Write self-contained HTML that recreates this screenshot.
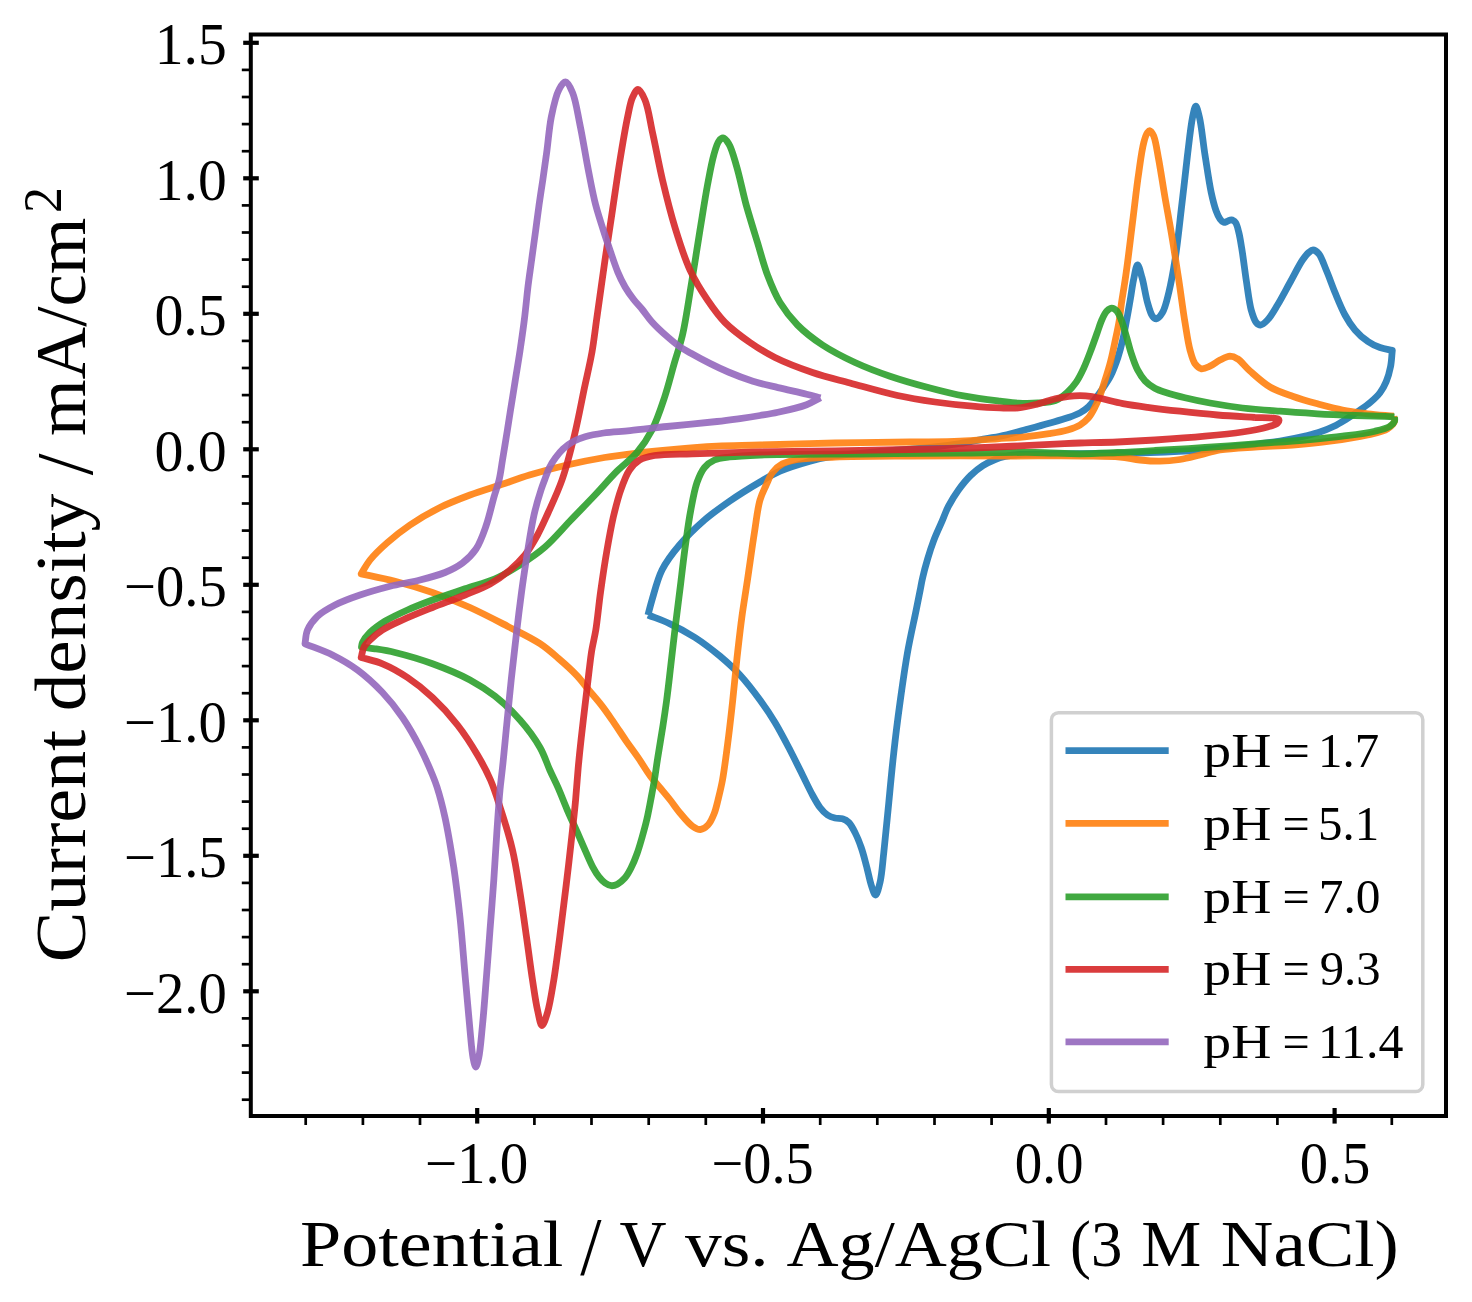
<!DOCTYPE html>
<html><head><meta charset="utf-8"><title>Cyclic voltammograms</title>
<style>
html,body{margin:0;padding:0;background:#fff;}
body{width:1472px;height:1302px;overflow:hidden;}
svg{display:block;filter:blur(0.6px);}
svg text{font-family:"Liberation Serif",serif;fill:#000;}
</style></head>
<body>
<svg width="1472" height="1302" viewBox="0 0 1472 1302">
<rect x="0" y="0" width="1472" height="1302" fill="#fff"/>
<defs><clipPath id="ax"><rect x="250.8" y="34.5" width="1195.2" height="1081.5"/></clipPath></defs>
<g clip-path="url(#ax)" fill="none" stroke-width="6.8" stroke-linejoin="round" stroke-linecap="butt">
<path d="M648.0 615.0C649.3 610.0 650.3 605.8 652.0 600.0C654.5 591.7 657.4 579.2 662.0 570.0C666.6 560.9 672.7 553.0 679.5 545.0C686.8 536.3 695.9 527.5 704.5 520.0C712.6 513.0 720.6 507.4 729.5 501.2C739.0 494.7 750.8 487.4 760.0 482.0C767.3 477.7 772.5 474.5 780.0 471.2C788.8 467.4 800.4 463.9 810.0 461.2C818.6 458.9 825.4 457.5 835.0 456.0C847.8 454.0 864.6 452.9 880.0 451.5C896.2 450.0 915.5 449.0 930.0 447.5C941.3 446.3 950.5 445.0 960.0 443.5C968.7 442.1 977.7 440.1 985.0 438.8C990.6 437.7 994.4 437.4 1000.0 436.2C1007.2 434.7 1016.4 432.1 1024.6 430.0C1032.8 427.8 1041.5 425.5 1049.1 423.3C1055.7 421.4 1062.1 419.7 1067.6 417.8C1072.2 416.2 1076.3 414.9 1079.9 412.9C1083.1 411.1 1085.9 409.1 1088.5 406.7C1091.2 404.2 1093.4 401.1 1095.8 398.1C1098.3 394.9 1100.6 391.5 1103.0 388.0C1105.6 384.2 1108.3 380.5 1110.6 376.0C1113.3 370.6 1115.8 363.8 1117.9 357.6C1119.9 351.5 1121.5 345.3 1122.9 339.1C1124.3 333.0 1125.3 327.0 1126.5 320.7C1127.8 314.0 1129.0 306.8 1130.2 300.0C1131.4 293.3 1132.2 286.2 1133.5 280.0C1134.7 274.6 1136.0 265.1 1137.5 265.0C1138.9 264.9 1140.6 272.6 1142.0 277.5C1144.0 284.4 1145.5 295.5 1147.5 302.5C1149.0 307.8 1150.5 313.6 1152.5 316.2C1153.6 317.7 1154.9 318.9 1156.2 318.8C1158.1 318.6 1160.7 315.5 1162.5 312.5C1165.3 307.9 1166.9 300.0 1168.8 292.5C1171.1 283.0 1173.1 272.0 1175.0 260.0C1177.4 245.2 1179.2 227.1 1181.2 210.0C1183.4 192.1 1185.5 171.6 1187.5 155.0C1189.2 141.3 1190.7 126.3 1192.5 117.5C1193.5 112.6 1194.6 106.3 1195.8 106.2C1196.9 106.2 1198.3 112.6 1199.5 117.5C1201.6 126.3 1203.0 142.5 1205.0 155.0C1207.0 167.5 1209.0 182.2 1211.2 192.5C1212.8 199.9 1214.5 206.4 1216.2 211.2C1217.4 214.5 1218.6 217.1 1220.0 219.0C1221.1 220.5 1222.2 222.0 1223.5 222.3C1224.7 222.6 1226.2 221.7 1227.5 221.3C1228.8 220.9 1230.1 219.7 1231.4 219.8C1232.8 219.9 1234.4 221.1 1235.5 222.5C1237.1 224.6 1237.7 228.3 1238.7 232.0C1240.0 237.0 1240.9 243.2 1242.0 250.0C1243.4 258.7 1244.7 270.0 1246.2 280.0C1247.8 290.0 1249.1 302.2 1251.2 310.0C1252.7 315.2 1254.2 320.1 1256.2 322.5C1257.5 324.0 1258.9 325.1 1260.5 325.0C1262.6 324.9 1265.2 322.4 1267.5 320.0C1270.9 316.5 1274.1 310.6 1277.5 305.0C1281.6 298.3 1285.8 290.0 1290.0 282.5C1294.2 275.0 1298.8 265.4 1302.5 260.0C1304.8 256.7 1306.7 254.2 1308.8 252.5C1310.2 251.3 1311.5 250.0 1313.0 250.0C1314.8 250.0 1317.0 251.7 1318.8 253.8C1321.6 257.1 1323.7 264.1 1326.2 270.0C1329.2 276.9 1331.9 285.0 1335.0 292.5C1338.1 300.0 1341.4 308.4 1345.0 315.0C1348.1 320.7 1351.2 325.6 1355.0 330.0C1358.7 334.3 1363.1 338.3 1367.5 341.2C1371.5 344.0 1375.8 346.0 1380.0 347.5C1384.0 348.9 1388.2 349.4 1392.3 350.3L1392.3 350.3C1391.7 355.8 1391.6 361.6 1390.5 366.9C1389.5 372.0 1388.1 377.1 1386.2 381.6C1384.5 385.7 1382.6 389.3 1380.0 392.7C1377.3 396.3 1373.8 399.4 1370.2 402.5C1366.4 405.7 1362.0 408.6 1357.9 411.5C1353.9 414.3 1349.8 417.0 1345.7 419.5C1341.6 422.0 1337.7 424.4 1333.4 426.5C1329.1 428.6 1324.5 430.5 1319.9 432.0C1315.4 433.5 1311.6 434.4 1306.3 435.7C1299.0 437.4 1289.7 439.4 1280.0 441.0C1268.1 442.9 1253.3 444.5 1240.0 446.0C1226.7 447.5 1214.1 448.9 1200.0 450.0C1184.3 451.2 1166.7 451.9 1150.0 452.5C1133.3 453.1 1116.7 453.2 1100.0 453.5C1083.3 453.7 1064.5 453.8 1050.0 454.0C1038.7 454.2 1028.3 453.9 1020.0 454.5C1014.1 454.9 1009.4 455.5 1005.0 456.5C1001.3 457.3 998.5 458.1 995.1 459.5C991.2 461.1 986.8 463.1 982.9 465.6C978.7 468.3 974.5 471.7 970.6 475.5C966.3 479.7 962.0 485.1 958.3 490.2C954.6 495.3 951.4 500.7 948.5 506.2C945.6 511.7 943.6 517.7 941.1 523.4C938.6 529.1 935.9 534.7 933.7 540.6C931.4 546.6 929.4 552.8 927.6 559.0C925.8 565.1 924.0 571.8 922.7 577.4C921.6 582.0 921.1 585.3 920.2 590.0C919.0 595.9 917.8 602.1 916.2 610.0C913.9 621.5 910.1 637.7 907.5 652.5C904.7 668.5 902.3 685.8 900.0 702.5C897.7 719.2 895.6 735.8 893.8 752.5C891.9 769.2 890.4 785.8 888.8 802.5C887.1 819.2 885.4 838.0 883.8 852.5C882.5 863.8 881.9 874.7 880.0 882.5C878.8 887.6 877.0 895.0 875.5 895.0C874.1 895.0 872.6 889.0 871.2 885.0C869.4 879.5 868.0 871.4 866.2 865.0C864.6 859.0 863.2 853.1 861.2 847.5C859.4 842.3 857.3 836.9 855.0 832.5C853.1 828.7 851.2 824.9 848.8 822.5C846.9 820.6 844.8 819.5 842.5 818.8C840.2 818.0 837.5 818.6 835.0 818.0C832.5 817.4 829.9 816.6 827.5 815.0C824.8 813.2 822.3 810.5 820.0 807.5C817.3 804.0 815.1 799.7 812.5 795.0C809.3 789.2 806.0 782.0 802.5 775.0C798.6 767.1 794.4 758.5 790.0 750.0C785.3 741.0 780.2 731.1 775.0 722.5C770.2 714.5 765.5 707.6 760.0 700.0C754.0 691.8 746.9 682.5 740.0 675.0C733.6 668.0 727.2 662.3 720.0 656.2C712.3 649.8 703.5 643.0 695.0 637.5C686.8 632.2 678.2 627.6 670.0 623.8C662.5 620.2 655.3 617.9 648.0 615.0" stroke="#1f77b4" stroke-opacity="0.90"/>
<path d="M1393.8 416.2C1394.0 417.9 1395.0 419.5 1394.5 421.2C1393.7 423.7 1390.8 426.7 1387.5 428.8C1382.8 431.7 1375.3 433.1 1367.5 435.0C1357.0 437.5 1342.5 439.6 1330.0 441.2C1317.5 442.9 1305.0 444.0 1292.5 445.0C1280.0 446.0 1267.3 446.1 1255.0 447.0C1243.1 447.8 1230.0 448.3 1220.0 450.0C1212.3 451.3 1206.7 453.4 1200.0 455.0C1193.3 456.6 1186.7 458.5 1180.0 459.5C1173.4 460.5 1166.7 461.2 1160.0 461.2C1153.3 461.3 1146.7 460.7 1140.0 460.0C1133.3 459.3 1127.6 457.7 1120.0 457.0C1110.0 456.1 1098.9 456.2 1085.0 456.0C1064.7 455.7 1036.8 456.0 1010.0 456.0C979.1 456.0 940.9 455.8 910.0 456.0C883.2 456.2 855.7 456.2 835.0 457.0C820.3 457.6 807.1 457.8 797.5 459.5C791.3 460.6 786.8 461.4 782.5 463.8C778.6 465.9 775.2 469.0 772.5 472.5C769.7 476.1 768.3 480.6 766.2 485.0C764.1 489.7 761.8 493.9 760.0 500.0C757.5 508.6 756.4 520.1 754.5 532.0C752.1 547.0 749.3 567.8 747.0 583.0C745.2 595.2 743.6 604.3 742.0 616.0C740.2 629.1 738.6 643.8 737.0 658.0C735.4 672.6 734.1 687.8 732.5 702.5C730.9 716.8 729.3 731.5 727.5 745.0C725.9 757.2 724.3 770.0 722.5 780.0C721.1 787.6 719.5 793.9 718.0 800.0C716.7 805.1 715.8 809.7 714.0 814.0C712.4 818.0 710.5 822.4 708.0 825.0C705.9 827.2 703.1 829.3 700.5 829.5C697.9 829.7 695.2 828.1 692.5 826.2C688.5 823.5 683.8 817.5 680.0 813.0C676.4 808.7 673.3 803.9 670.2 800.0C667.6 796.7 665.7 794.4 662.9 791.1C659.3 786.8 654.6 781.7 650.6 776.4C646.3 770.7 642.5 763.9 638.3 757.9C634.2 752.0 630.1 746.6 626.0 740.7C621.9 734.7 617.8 728.3 613.7 722.3C609.6 716.4 605.6 710.5 601.4 705.1C597.4 699.9 593.2 695.3 589.1 690.4C585.0 685.5 581.6 680.6 576.9 675.6C571.5 669.9 564.7 663.8 558.4 658.4C552.4 653.2 547.3 648.5 540.0 643.7C530.9 637.7 518.8 632.1 507.5 626.2C495.5 620.0 482.6 613.2 470.0 607.5C457.6 601.9 445.1 596.9 432.5 592.5C420.1 588.2 407.2 584.4 395.0 581.2C383.5 578.3 372.5 576.2 361.2 573.8L361.2 573.8C364.2 569.2 366.3 564.7 370.0 560.0C374.6 554.3 381.1 548.1 387.5 542.5C394.4 536.4 401.8 530.6 410.0 525.0C419.1 518.8 429.8 512.6 440.0 507.5C449.8 502.6 459.9 498.8 470.0 495.0C479.9 491.3 490.0 488.3 500.0 485.0C509.9 481.7 519.0 478.2 529.5 475.0C541.2 471.5 554.5 467.9 567.0 465.0C579.5 462.1 592.0 459.6 604.5 457.5C617.0 455.4 629.5 454.0 642.0 452.5C654.5 451.0 667.0 449.8 679.5 448.8C692.0 447.7 704.1 446.9 717.0 446.2C730.8 445.6 743.7 445.5 760.0 445.0C781.5 444.4 810.0 443.5 835.0 443.0C860.0 442.5 887.5 442.3 910.0 442.0C928.4 441.7 944.5 441.9 960.0 441.2C973.4 440.7 986.0 439.5 997.5 438.8C1007.3 438.1 1015.8 437.7 1024.6 436.8C1033.0 436.0 1041.5 434.9 1049.1 433.7C1055.7 432.6 1062.1 431.6 1067.6 430.0C1072.2 428.6 1076.3 427.3 1079.9 425.1C1083.2 423.1 1086.1 420.6 1088.5 417.8C1091.0 414.9 1092.8 411.4 1094.6 407.9C1096.5 404.4 1098.0 400.9 1099.5 396.9C1101.3 392.4 1102.7 387.5 1104.4 382.1C1106.4 375.8 1108.8 368.4 1110.6 361.3C1112.5 354.1 1114.0 346.2 1115.5 339.1C1116.9 332.7 1118.2 326.9 1119.2 320.7C1120.2 314.6 1120.6 309.2 1121.6 302.3C1122.9 293.6 1124.7 283.7 1126.2 272.5C1128.3 258.0 1130.4 239.2 1132.5 222.5C1134.6 205.8 1136.6 187.0 1138.8 172.5C1140.4 161.2 1141.8 149.8 1143.8 142.5C1144.9 138.2 1146.0 134.4 1147.5 132.5C1148.3 131.5 1149.2 130.6 1150.0 130.8C1151.2 131.0 1152.6 133.6 1153.8 136.2C1155.9 141.3 1157.1 151.2 1158.8 160.0C1160.8 171.1 1162.8 184.6 1165.0 197.5C1167.4 211.2 1170.2 226.0 1172.5 240.0C1174.7 253.5 1176.7 266.5 1178.8 280.0C1180.9 293.9 1182.9 309.9 1185.0 322.5C1186.7 332.7 1188.0 342.5 1190.0 350.0C1191.5 355.4 1192.7 360.5 1195.0 363.8C1196.7 366.1 1198.9 368.3 1201.2 368.8C1203.8 369.3 1207.1 367.5 1210.0 366.2C1213.3 364.8 1216.6 361.7 1220.0 360.0C1223.3 358.4 1226.9 356.3 1230.0 356.2C1232.7 356.2 1234.9 357.1 1237.5 358.8C1241.4 361.1 1245.2 366.8 1250.0 371.0C1255.8 376.1 1262.8 382.8 1270.0 387.0C1277.0 391.1 1284.7 393.5 1292.5 396.2C1300.5 399.1 1309.1 401.5 1317.5 403.8C1325.8 406.0 1334.1 408.3 1342.5 410.0C1350.8 411.7 1359.1 412.7 1367.5 413.8C1376.1 414.8 1385.0 415.4 1393.8 416.2" stroke="#ff7f0e" stroke-opacity="0.90"/>
<path d="M1394.5 416.8C1394.5 418.2 1395.1 419.8 1394.5 421.2C1393.8 423.0 1392.2 424.8 1390.0 426.2C1386.6 428.5 1381.0 429.8 1375.0 431.2C1366.3 433.4 1353.7 434.8 1342.5 436.2C1330.5 437.8 1318.4 438.8 1305.0 440.0C1289.5 441.4 1271.7 442.5 1255.0 443.8C1238.3 445.0 1221.7 446.4 1205.0 447.5C1188.3 448.6 1170.5 449.6 1155.0 450.5C1141.6 451.3 1130.0 452.0 1117.5 452.5C1105.0 453.0 1093.1 453.7 1080.0 453.8C1065.7 453.8 1051.9 452.7 1035.0 452.5C1013.2 452.3 986.8 452.8 960.0 453.0C929.1 453.3 893.3 453.7 860.0 454.0C826.7 454.3 783.7 454.1 760.0 455.0C746.9 455.5 737.9 455.9 729.5 457.0C723.6 457.8 718.8 458.1 714.5 460.0C710.6 461.7 707.3 464.2 704.5 467.5C701.3 471.4 699.1 476.6 697.0 482.5C694.3 490.2 692.6 500.4 690.8 510.0C688.8 520.3 687.4 530.9 685.8 542.5C683.9 555.7 682.2 571.0 680.5 585.0C678.8 598.5 677.2 611.2 675.5 625.0C673.7 639.7 671.8 657.0 670.2 670.7C668.9 681.9 667.8 691.7 666.5 701.4C665.3 710.1 664.2 717.4 662.9 726.0C661.4 735.7 659.4 747.0 657.9 756.7C656.5 765.3 655.5 773.6 654.2 781.3C653.0 788.2 651.8 794.3 650.6 800.7C649.4 806.9 648.3 813.0 646.9 819.1C645.5 825.3 643.7 831.7 642.0 837.6C640.4 843.1 639.0 848.3 637.1 853.5C635.3 858.6 633.1 864.0 630.9 868.3C629.0 872.0 627.2 875.4 624.8 878.1C622.6 880.6 619.9 882.9 617.4 884.2C615.4 885.2 613.3 885.9 611.3 885.7C609.2 885.5 607.0 884.3 605.1 883.0C602.9 881.5 600.9 879.3 599.0 876.9C596.8 874.1 594.8 870.8 592.8 867.1C590.3 862.5 588.0 856.7 585.5 851.1C582.7 844.9 579.9 838.1 576.9 831.4C573.7 824.2 570.1 816.6 567.0 809.3C564.0 802.3 561.3 795.1 558.4 788.4C555.6 782.0 552.7 776.5 549.8 770.0C546.6 762.9 544.4 755.1 540.0 747.5C534.9 738.5 527.5 728.5 520.0 720.0C512.5 711.4 503.7 703.1 495.0 696.2C486.9 689.9 479.4 685.1 470.0 680.0C459.0 674.1 445.1 668.4 432.5 663.8C420.1 659.2 405.6 655.1 395.0 652.5C387.4 650.6 381.0 649.7 375.0 648.8C370.1 648.0 366.0 647.6 361.5 647.0L361.5 647.0C361.8 645.5 361.7 644.2 362.5 642.5C363.8 639.7 366.8 635.7 370.0 632.5C373.9 628.6 379.3 624.8 385.0 621.2C391.6 617.2 399.7 613.5 407.5 610.0C415.5 606.4 423.6 603.3 432.5 600.0C442.6 596.2 454.4 592.4 465.0 588.8C475.2 585.3 485.6 582.8 495.0 578.8C503.9 574.9 511.8 570.2 520.0 565.0C528.5 559.6 537.0 554.0 545.0 547.0C553.7 539.5 561.7 529.7 570.0 521.0C578.3 512.3 587.0 503.5 595.0 495.0C602.6 486.9 609.7 478.6 617.0 471.2C623.7 464.5 631.2 459.4 637.0 452.5C642.8 445.6 647.6 438.5 652.0 430.0C657.0 420.4 660.8 408.6 664.5 397.5C668.3 386.1 671.3 373.5 674.5 362.5C677.3 352.8 680.0 345.6 682.5 335.0C685.8 320.9 688.4 302.1 691.2 285.0C694.2 267.1 697.2 247.4 700.0 230.0C702.6 214.2 705.0 198.5 707.5 185.0C709.6 174.0 711.5 163.0 713.8 155.0C715.3 149.5 716.7 144.1 718.8 141.2C720.0 139.5 721.5 137.9 723.0 138.0C724.8 138.1 727.0 141.0 728.8 143.8C731.7 148.4 733.8 156.7 736.2 165.0C739.6 176.2 742.7 191.9 746.2 205.0C749.8 217.7 753.8 230.5 757.5 242.5C760.9 253.7 763.6 264.7 767.5 275.0C771.2 284.7 774.9 294.1 780.0 302.5C785.0 310.7 790.7 318.1 797.5 325.0C804.7 332.3 813.3 338.9 822.5 345.0C832.4 351.5 843.8 357.3 855.0 362.5C866.3 367.7 877.8 372.1 890.0 376.2C902.8 380.6 917.1 384.6 930.0 388.0C942.0 391.2 953.3 394.0 965.0 396.2C976.6 398.4 990.2 400.0 1000.0 401.2C1007.1 402.1 1012.2 402.9 1018.4 403.2C1024.8 403.5 1031.7 403.5 1038.0 403.0C1044.0 402.6 1050.2 402.6 1055.3 400.6C1060.0 398.8 1064.0 395.2 1067.6 392.0C1070.9 389.0 1073.6 385.8 1076.2 382.1C1079.0 378.1 1081.2 373.5 1083.5 368.6C1086.1 363.0 1088.6 356.3 1090.9 350.2C1093.1 344.4 1095.2 338.4 1097.1 333.0C1098.8 328.2 1100.2 323.4 1102.0 319.5C1103.5 316.2 1105.0 312.8 1106.9 310.9C1108.4 309.5 1110.2 308.2 1111.8 308.2C1113.4 308.2 1115.3 309.4 1116.7 310.9C1118.7 313.0 1120.1 317.0 1121.6 320.7C1123.4 325.3 1124.9 331.3 1126.5 336.7C1128.2 342.3 1129.5 348.3 1131.4 353.9C1133.2 359.4 1135.1 365.2 1137.6 369.9C1139.8 374.0 1142.1 377.8 1145.0 380.9C1147.8 383.9 1151.3 386.3 1154.8 388.3C1158.2 390.2 1161.6 391.2 1165.8 392.6C1171.3 394.4 1178.2 396.2 1185.0 397.8C1192.8 399.7 1201.1 401.4 1210.0 403.0C1220.1 404.8 1231.3 406.6 1242.5 408.0C1254.5 409.4 1267.5 410.3 1280.0 411.2C1292.5 412.2 1305.0 413.0 1317.5 413.8C1330.0 414.5 1342.3 415.0 1355.0 415.5C1368.0 416.0 1381.3 416.3 1394.5 416.8" stroke="#2ca02c" stroke-opacity="0.90"/>
<path d="M1255.0 417.5C1260.8 417.7 1268.2 417.4 1272.5 418.0C1275.1 418.3 1278.2 418.4 1278.8 419.5C1279.2 420.3 1278.5 422.0 1277.5 423.0C1275.8 424.7 1271.7 425.8 1267.5 427.0C1261.1 428.9 1251.7 430.6 1242.5 432.0C1231.3 433.8 1218.4 435.0 1205.0 436.2C1189.5 437.7 1170.5 439.0 1155.0 440.0C1141.6 440.9 1130.0 441.5 1117.5 442.0C1105.0 442.5 1090.6 442.7 1080.0 443.0C1072.3 443.2 1068.8 443.4 1060.0 443.8C1043.0 444.5 1010.0 446.5 985.0 447.5C960.0 448.5 935.0 449.0 910.0 449.5C885.0 450.0 860.0 450.3 835.0 450.8C810.0 451.2 784.4 451.5 760.0 452.0C736.8 452.5 711.3 453.1 692.0 453.8C677.7 454.3 664.1 453.9 654.5 455.5C648.3 456.6 643.7 457.5 639.5 460.0C635.5 462.4 632.4 465.8 629.5 470.0C625.9 475.3 623.3 482.7 620.8 490.0C617.8 498.3 615.5 507.9 613.2 517.5C610.9 527.8 609.0 538.4 607.0 550.0C604.7 563.2 602.4 578.8 600.5 592.5C598.7 605.4 597.5 619.2 595.8 630.0C594.4 638.3 592.6 644.9 591.5 652.0C590.5 658.5 590.0 663.7 589.1 670.7C588.0 679.7 586.8 690.7 585.5 701.4C584.1 713.1 582.5 726.6 581.2 738.3C580.0 749.0 579.0 758.7 578.1 769.0C577.2 779.3 576.5 789.8 575.6 800.0C574.7 810.1 573.7 818.5 572.5 830.0C570.8 845.6 568.4 867.1 566.2 885.0C564.2 902.1 562.1 918.8 560.0 935.0C558.0 950.4 556.0 966.2 553.8 980.0C551.8 991.7 550.0 1004.2 547.5 1012.5C545.9 1017.9 543.6 1025.6 542.0 1025.5C540.3 1025.4 538.9 1016.1 537.5 1010.0C535.6 1001.7 534.2 991.0 532.5 980.0C530.4 966.5 528.4 949.8 526.2 935.0C524.2 920.6 522.3 906.7 520.0 892.5C517.7 878.3 515.8 864.1 512.5 850.0C509.2 835.6 504.1 819.6 500.0 807.0C496.8 796.9 494.3 788.7 490.5 780.0C486.8 771.4 482.6 763.6 477.5 755.0C471.8 745.3 464.9 734.5 457.5 725.0C450.0 715.3 441.2 705.6 432.5 697.5C424.5 689.9 416.1 683.2 407.5 677.5C399.4 672.1 390.7 667.2 382.5 663.8C375.3 660.8 368.3 659.6 361.2 657.5L361.2 657.5C362.1 654.2 362.3 650.4 363.8 647.5C365.2 644.6 367.4 642.5 370.0 640.0C373.3 636.7 377.7 633.1 382.5 630.0C388.2 626.3 395.1 623.4 402.5 620.0C411.4 615.9 422.3 611.6 432.5 607.5C443.1 603.3 454.9 599.2 465.0 595.0C473.9 591.3 482.3 588.3 490.0 584.0C497.3 579.9 504.0 575.0 510.0 570.0C515.6 565.3 520.5 560.6 525.0 555.0C529.7 549.0 533.7 541.9 537.5 535.0C541.4 527.9 544.3 521.1 548.0 513.0C552.4 503.2 557.8 492.0 562.0 480.0C566.8 466.3 570.8 450.3 574.5 435.0C578.3 419.4 581.4 402.2 584.5 387.5C587.2 374.8 590.0 363.3 592.0 352.0C593.8 341.7 594.6 334.2 596.2 322.5C598.7 305.5 602.1 279.7 605.0 260.0C607.6 242.4 610.0 226.7 612.5 210.0C615.0 193.3 617.4 176.0 620.0 160.0C622.4 145.2 625.1 129.0 627.5 117.5C629.2 109.6 630.2 102.5 632.5 97.5C634.1 94.1 636.1 89.5 638.0 89.5C640.2 89.5 643.0 95.3 645.0 100.0C648.3 107.6 649.9 120.6 652.5 132.5C655.7 146.8 658.8 164.2 662.5 180.0C666.3 195.9 670.3 212.2 675.0 227.5C679.5 242.2 684.1 257.3 690.0 270.0C695.2 281.1 701.3 290.9 707.5 300.0C713.1 308.2 718.2 315.6 725.0 322.5C732.2 329.8 741.5 336.6 750.0 342.5C758.1 348.2 765.6 352.8 775.0 357.5C786.0 363.0 799.9 368.2 812.5 372.5C824.9 376.7 836.7 379.4 850.0 383.0C864.9 387.0 882.5 392.2 897.5 395.5C910.7 398.4 922.5 400.2 935.0 402.0C947.5 403.8 961.0 405.3 972.5 406.2C982.4 407.1 991.7 407.7 1000.0 407.9C1006.7 408.1 1012.3 408.5 1018.4 407.9C1024.6 407.3 1030.8 405.7 1036.9 404.2C1043.1 402.7 1049.6 400.1 1055.3 398.7C1060.1 397.6 1064.5 396.8 1068.8 396.3C1072.7 395.8 1076.1 395.6 1079.9 395.6C1083.9 395.6 1088.0 396.0 1092.1 396.6C1096.2 397.2 1099.9 398.3 1104.4 399.3C1109.9 400.6 1116.3 402.3 1122.9 403.6C1130.5 405.0 1138.6 406.1 1147.4 407.3C1157.5 408.7 1168.7 410.0 1180.0 411.2C1192.1 412.6 1205.0 414.0 1217.5 415.0C1230.0 416.0 1242.5 416.7 1255.0 417.5" stroke="#d62728" stroke-opacity="0.90"/>
<path d="M820.5 397.8C815.9 400.1 812.2 402.6 806.6 404.7C798.9 407.6 786.5 410.4 778.0 412.3C771.3 413.8 766.2 414.5 760.0 415.5C753.5 416.6 746.9 417.6 740.0 418.6C732.6 419.6 726.1 420.5 717.0 421.5C703.5 423.0 682.4 424.9 667.0 426.5C653.7 427.9 641.3 429.5 630.0 430.6C620.5 431.6 611.6 431.8 603.6 433.0C596.9 434.0 590.6 435.1 585.1 436.7C580.5 438.1 576.6 439.5 572.9 441.6C569.3 443.6 565.9 446.3 563.0 449.0C560.2 451.6 557.9 454.6 555.7 457.6C553.4 460.7 551.3 463.8 549.5 467.4C547.6 471.3 546.1 476.0 544.6 480.0C543.3 483.5 542.3 485.9 541.0 490.0C538.9 496.4 536.1 505.8 534.0 515.0C531.5 526.1 529.5 539.4 527.5 552.0C525.4 565.2 523.3 579.0 521.5 592.5C519.7 606.0 518.1 619.0 516.5 633.0C514.7 648.1 512.9 664.1 511.2 680.0C509.5 696.4 507.8 714.5 506.2 730.0C504.9 743.4 503.7 756.6 502.5 767.5C501.6 776.0 500.8 781.4 500.0 790.0C498.9 801.4 498.0 815.9 497.0 830.0C495.9 845.7 494.9 863.3 493.8 880.0C492.6 896.7 491.3 913.3 490.0 930.0C488.8 946.7 487.5 963.8 486.2 980.0C485.0 995.4 483.9 1011.2 482.5 1025.0C481.3 1036.7 480.4 1049.9 478.8 1057.5C477.9 1061.7 476.7 1067.0 475.8 1067.0C474.8 1067.0 473.8 1061.5 473.0 1057.5C471.7 1050.8 471.0 1040.5 470.0 1030.0C468.6 1015.8 467.1 997.6 465.5 980.0C463.7 960.3 462.1 937.2 460.0 917.5C458.1 899.9 456.2 884.1 453.8 867.5C451.2 850.8 448.2 832.1 445.0 817.5C442.5 806.0 439.5 794.8 437.0 787.0C435.4 782.0 434.5 779.8 432.5 775.0C429.5 767.7 424.8 756.7 420.0 747.5C414.9 737.6 408.9 726.8 402.5 717.5C396.4 708.5 389.9 700.3 382.5 692.5C374.9 684.5 366.2 676.4 357.5 670.0C349.4 664.0 341.2 659.4 332.5 655.0C323.7 650.6 314.2 647.5 305.0 643.8L305.0 643.8C305.8 639.2 305.6 634.4 307.5 630.0C309.6 625.2 313.2 620.3 317.5 616.2C322.2 611.8 328.5 608.4 335.0 605.0C342.4 601.2 351.2 598.0 360.0 595.0C369.5 591.7 380.0 588.8 390.0 586.2C400.0 583.8 410.5 582.4 420.0 580.0C428.8 577.8 437.5 575.6 445.0 572.5C451.5 569.8 457.3 566.9 462.5 563.0C467.6 559.1 472.2 554.6 476.0 549.0C480.3 542.6 483.1 534.2 486.0 526.0C489.2 517.0 491.6 505.4 494.0 497.0C495.9 490.6 497.7 485.9 499.1 480.0C500.6 473.6 501.3 467.3 502.5 460.0C504.0 451.0 506.0 438.7 507.4 430.0C508.5 423.2 509.1 418.8 510.2 412.0C511.6 403.1 513.5 391.6 515.1 381.4C516.7 371.2 518.5 360.9 520.0 350.7C521.5 340.5 523.0 330.5 524.3 320.0C525.7 308.9 526.8 296.5 528.1 285.7C529.3 276.1 530.6 267.6 531.8 258.6C533.0 249.6 534.3 240.6 535.5 231.6C536.7 222.6 537.9 213.4 539.1 204.6C540.3 196.2 541.5 188.6 542.8 180.0C544.2 170.5 545.6 160.2 547.0 150.0C548.4 139.4 549.2 127.8 551.2 117.5C553.2 107.9 555.5 96.2 558.8 90.0C560.7 86.2 563.3 81.9 565.5 82.0C567.9 82.1 570.5 87.8 572.5 92.5C575.8 100.1 577.5 113.1 580.0 125.0C583.0 139.3 585.9 158.2 588.8 172.5C591.1 184.3 593.0 194.7 595.6 204.6C597.9 213.4 600.5 221.2 603.0 229.1C605.4 236.7 607.9 244.0 610.4 251.3C612.8 258.4 615.2 265.8 617.8 272.1C620.1 277.6 622.4 282.3 625.1 287.0C627.7 291.5 630.7 295.6 633.7 299.5C636.5 303.1 639.4 305.9 642.3 309.5C645.5 313.4 648.2 317.8 652.0 322.0C656.3 326.8 662.1 332.1 666.9 336.3C671.1 340.0 674.9 343.3 679.1 346.2C683.1 349.0 686.9 350.9 691.4 353.5C696.9 356.6 703.7 360.3 709.9 363.4C716.0 366.5 721.7 369.2 728.3 372.0C735.8 375.2 744.6 378.6 752.9 381.2C761.2 383.8 769.3 385.5 778.0 387.6C787.2 389.8 798.8 392.3 806.6 394.2C812.1 395.5 815.9 396.6 820.5 397.8" stroke="#9467bd" stroke-opacity="0.90"/>
</g>
<g>
<rect x="1051.4" y="712.8" width="371.4" height="378.8" rx="7" ry="7" fill="#fff" fill-opacity="0.8" stroke="#d0d0d0" stroke-width="3.5"/>
<line x1="1065.5" y1="750.6" x2="1168.7" y2="750.6" stroke="#1f77b4" stroke-opacity="0.90" stroke-width="6.8"/>
<line x1="1065.5" y1="823.3" x2="1168.7" y2="823.3" stroke="#ff7f0e" stroke-opacity="0.90" stroke-width="6.8"/>
<line x1="1065.5" y1="896.8" x2="1168.7" y2="896.8" stroke="#2ca02c" stroke-opacity="0.90" stroke-width="6.8"/>
<line x1="1065.5" y1="969.3" x2="1168.7" y2="969.3" stroke="#d62728" stroke-opacity="0.90" stroke-width="6.8"/>
<line x1="1065.5" y1="1041.9" x2="1168.7" y2="1041.9" stroke="#9467bd" stroke-opacity="0.90" stroke-width="6.8"/>
</g>
<g stroke="#000" fill="none">
<line x1="477.2" y1="1108.0" x2="477.2" y2="1123.6" stroke-width="4.2"/>
<line x1="763.0" y1="1108.0" x2="763.0" y2="1123.6" stroke-width="4.2"/>
<line x1="1048.8" y1="1108.0" x2="1048.8" y2="1123.6" stroke-width="4.2"/>
<line x1="1334.6" y1="1108.0" x2="1334.6" y2="1123.6" stroke-width="4.2"/>
<line x1="305.7" y1="1116.0" x2="305.7" y2="1125.0" stroke-width="2.7"/>
<line x1="362.9" y1="1116.0" x2="362.9" y2="1125.0" stroke-width="2.7"/>
<line x1="420.0" y1="1116.0" x2="420.0" y2="1125.0" stroke-width="2.7"/>
<line x1="534.4" y1="1116.0" x2="534.4" y2="1125.0" stroke-width="2.7"/>
<line x1="591.5" y1="1116.0" x2="591.5" y2="1125.0" stroke-width="2.7"/>
<line x1="648.7" y1="1116.0" x2="648.7" y2="1125.0" stroke-width="2.7"/>
<line x1="705.8" y1="1116.0" x2="705.8" y2="1125.0" stroke-width="2.7"/>
<line x1="820.2" y1="1116.0" x2="820.2" y2="1125.0" stroke-width="2.7"/>
<line x1="877.3" y1="1116.0" x2="877.3" y2="1125.0" stroke-width="2.7"/>
<line x1="934.5" y1="1116.0" x2="934.5" y2="1125.0" stroke-width="2.7"/>
<line x1="991.6" y1="1116.0" x2="991.6" y2="1125.0" stroke-width="2.7"/>
<line x1="1106.0" y1="1116.0" x2="1106.0" y2="1125.0" stroke-width="2.7"/>
<line x1="1163.1" y1="1116.0" x2="1163.1" y2="1125.0" stroke-width="2.7"/>
<line x1="1220.3" y1="1116.0" x2="1220.3" y2="1125.0" stroke-width="2.7"/>
<line x1="1277.4" y1="1116.0" x2="1277.4" y2="1125.0" stroke-width="2.7"/>
<line x1="1391.8" y1="1116.0" x2="1391.8" y2="1125.0" stroke-width="2.7"/>
<line x1="243.2" y1="42.8" x2="258.8" y2="42.8" stroke-width="4.2"/>
<line x1="243.2" y1="178.3" x2="258.8" y2="178.3" stroke-width="4.2"/>
<line x1="243.2" y1="313.8" x2="258.8" y2="313.8" stroke-width="4.2"/>
<line x1="243.2" y1="449.3" x2="258.8" y2="449.3" stroke-width="4.2"/>
<line x1="243.2" y1="584.8" x2="258.8" y2="584.8" stroke-width="4.2"/>
<line x1="243.2" y1="720.3" x2="258.8" y2="720.3" stroke-width="4.2"/>
<line x1="243.2" y1="855.8" x2="258.8" y2="855.8" stroke-width="4.2"/>
<line x1="243.2" y1="991.3" x2="258.8" y2="991.3" stroke-width="4.2"/>
<line x1="241.8" y1="1099.7" x2="250.8" y2="1099.7" stroke-width="2.7"/>
<line x1="241.8" y1="1072.6" x2="250.8" y2="1072.6" stroke-width="2.7"/>
<line x1="241.8" y1="1045.5" x2="250.8" y2="1045.5" stroke-width="2.7"/>
<line x1="241.8" y1="1018.4" x2="250.8" y2="1018.4" stroke-width="2.7"/>
<line x1="241.8" y1="964.2" x2="250.8" y2="964.2" stroke-width="2.7"/>
<line x1="241.8" y1="937.1" x2="250.8" y2="937.1" stroke-width="2.7"/>
<line x1="241.8" y1="910.0" x2="250.8" y2="910.0" stroke-width="2.7"/>
<line x1="241.8" y1="882.9" x2="250.8" y2="882.9" stroke-width="2.7"/>
<line x1="241.8" y1="828.7" x2="250.8" y2="828.7" stroke-width="2.7"/>
<line x1="241.8" y1="801.6" x2="250.8" y2="801.6" stroke-width="2.7"/>
<line x1="241.8" y1="774.5" x2="250.8" y2="774.5" stroke-width="2.7"/>
<line x1="241.8" y1="747.4" x2="250.8" y2="747.4" stroke-width="2.7"/>
<line x1="241.8" y1="693.2" x2="250.8" y2="693.2" stroke-width="2.7"/>
<line x1="241.8" y1="666.1" x2="250.8" y2="666.1" stroke-width="2.7"/>
<line x1="241.8" y1="639.0" x2="250.8" y2="639.0" stroke-width="2.7"/>
<line x1="241.8" y1="611.9" x2="250.8" y2="611.9" stroke-width="2.7"/>
<line x1="241.8" y1="557.7" x2="250.8" y2="557.7" stroke-width="2.7"/>
<line x1="241.8" y1="530.6" x2="250.8" y2="530.6" stroke-width="2.7"/>
<line x1="241.8" y1="503.5" x2="250.8" y2="503.5" stroke-width="2.7"/>
<line x1="241.8" y1="476.4" x2="250.8" y2="476.4" stroke-width="2.7"/>
<line x1="241.8" y1="422.2" x2="250.8" y2="422.2" stroke-width="2.7"/>
<line x1="241.8" y1="395.1" x2="250.8" y2="395.1" stroke-width="2.7"/>
<line x1="241.8" y1="368.0" x2="250.8" y2="368.0" stroke-width="2.7"/>
<line x1="241.8" y1="340.9" x2="250.8" y2="340.9" stroke-width="2.7"/>
<line x1="241.8" y1="286.7" x2="250.8" y2="286.7" stroke-width="2.7"/>
<line x1="241.8" y1="259.6" x2="250.8" y2="259.6" stroke-width="2.7"/>
<line x1="241.8" y1="232.5" x2="250.8" y2="232.5" stroke-width="2.7"/>
<line x1="241.8" y1="205.4" x2="250.8" y2="205.4" stroke-width="2.7"/>
<line x1="241.8" y1="151.2" x2="250.8" y2="151.2" stroke-width="2.7"/>
<line x1="241.8" y1="124.1" x2="250.8" y2="124.1" stroke-width="2.7"/>
<line x1="241.8" y1="97.0" x2="250.8" y2="97.0" stroke-width="2.7"/>
<line x1="241.8" y1="69.9" x2="250.8" y2="69.9" stroke-width="2.7"/>
<rect x="250.8" y="34.5" width="1195.2" height="1081.5" stroke-width="4.0"/>
</g>
<g>
<text transform="translate(154.80 64.40) scale(0.9846 1)" font-size="58.5">1.5</text>
<text transform="translate(154.80 199.90) scale(0.9846 1)" font-size="58.5">1.0</text>
<text transform="translate(154.39 335.40) scale(0.9904 1)" font-size="58.5">0.5</text>
<text transform="translate(154.39 470.90) scale(0.9904 1)" font-size="58.5">0.0</text>
<text transform="translate(123.94 606.40) scale(0.9690 1)" font-size="58.5">−0.5</text>
<text transform="translate(123.94 741.90) scale(0.9690 1)" font-size="58.5">−1.0</text>
<text transform="translate(123.94 877.40) scale(0.9690 1)" font-size="58.5">−1.5</text>
<text transform="translate(123.94 1012.90) scale(0.9690 1)" font-size="58.5">−2.0</text>
<text transform="translate(424.93 1183.30) scale(0.9749 1)" font-size="58.5">−1.0</text>
<text transform="translate(711.56 1183.30) scale(0.9631 1)" font-size="58.5">−0.5</text>
<text transform="translate(1014.68 1183.30) scale(0.9400 1)" font-size="58.5">0.0</text>
<text transform="translate(1299.63 1183.30) scale(0.9688 1)" font-size="58.5">0.5</text>
<text transform="translate(580.30 1274.00) scale(0.9210 1)" font-size="83.0">/</text>
<text transform="translate(300.04 1265.50) scale(1.1397 1)" font-size="65.0">Potential</text>
<text transform="translate(619.50 1265.50) scale(1.0017 1)" font-size="65.0">V</text>
<text transform="translate(685.00 1265.50) scale(1.1288 1)" font-size="65.0">vs.</text>
<text transform="translate(786.50 1265.50) scale(1.1105 1)" font-size="65.0">Ag/AgCl</text>
<text transform="translate(1070.04 1265.50) scale(0.9664 1)" font-size="65.0">(3</text>
<text transform="translate(1141.15 1265.50) scale(1.0383 1)" font-size="65.0">M</text>
<text transform="translate(1220.86 1265.50) scale(1.1204 1)" font-size="65.0">NaCl)</text>
<text transform="translate(1203.33 767.40) scale(1.1453 1)" font-size="48.6">pH</text>
<text transform="translate(1282.54 767.40) scale(0.9920 1)" font-size="48.6">=</text>
<text transform="translate(1318.08 767.40) scale(1.0054 1)" font-size="48.6">1.7</text>
<text transform="translate(1203.33 840.00) scale(1.1453 1)" font-size="48.6">pH</text>
<text transform="translate(1282.54 840.00) scale(0.9920 1)" font-size="48.6">=</text>
<text transform="translate(1318.01 840.00) scale(1.0054 1)" font-size="48.6">5.1</text>
<text transform="translate(1203.33 912.60) scale(1.1453 1)" font-size="48.6">pH</text>
<text transform="translate(1282.54 912.60) scale(0.9920 1)" font-size="48.6">=</text>
<text transform="translate(1318.81 912.60) scale(1.0161 1)" font-size="48.6">7.0</text>
<text transform="translate(1203.33 985.20) scale(1.1453 1)" font-size="48.6">pH</text>
<text transform="translate(1282.54 985.20) scale(0.9920 1)" font-size="48.6">=</text>
<text transform="translate(1319.78 985.20) scale(0.9998 1)" font-size="48.6">9.3</text>
<text transform="translate(1203.33 1057.70) scale(1.1453 1)" font-size="48.6">pH</text>
<text transform="translate(1282.54 1057.70) scale(0.9920 1)" font-size="48.6">=</text>
<text transform="translate(1318.01 1057.70) scale(1.0255 1)" font-size="48.6">11.4</text>
<g transform="translate(84.9 0) rotate(-90)">
<text transform="translate(-475.30 7.00) scale(0.9733 1)" font-size="80.0">/</text>
<text transform="translate(-962.18 0.00) scale(1.0656 1)" font-size="71.4">Current</text>
<text transform="translate(-711.35 0.00) scale(1.0553 1)" font-size="71.4">density</text>
<text transform="translate(-436.04 0.00) scale(1.0204 1)" font-size="71.4">mA/cm</text>
<text transform="translate(-213.12 -24.20) scale(0.9613 1)" font-size="54.0">2</text>
</g>
</g>
</svg>
</body></html>
